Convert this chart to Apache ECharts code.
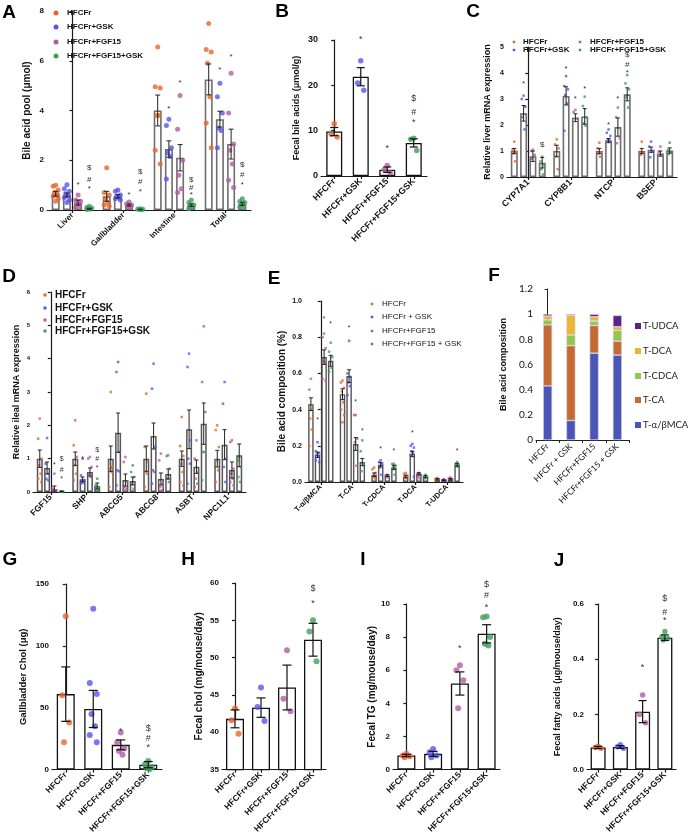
<!DOCTYPE html>
<html><head><meta charset="utf-8">
<script src="https://cdn.jsdelivr.net/npm/echarts@6.0.0/dist/echarts.min.js"></script>
<style>html,body{margin:0;padding:0;background:#fff;}#chart{width:689px;height:836px;}</style>
</head><body><div id="chart"></div>
<script>
// ================= DATA =================
const groupNames = ['HFCFr','HFCFr+GSK','HFCFr+FGF15','HFCFr+FGF15+GSK'];
const groupNamesE = ['HFCFr','HFCFr + GSK','HFCFr+FGF15','HFCFr+FGF15 + GSK'];

// Panel A – bile acid pool (rows = groups, cols = categories)
const catsA = ['Liver','Gallbladder','Intestine','Total'];
const meansA = [[0.65,0.55,4.0,5.25],[0.6,0.55,2.45,3.65],[0.3,0.2,2.1,2.65],[0.05,0.02,0.2,0.25]];
const semsA  = [[0.1,0.2,0.62,0.62],[0.08,0.07,0.33,0.32],[0.1,0.04,0.53,0.6],[0.02,0.01,0.05,0.06]];
const ptsA = [
 [[1.0,0.95,0.8,0.7,0.65,0.55,0.45,0.35],[1.7,0.7,0.6,0.45,0.3,0.2,0.15],[6.55,4.95,4.9,3.8,3.8,2.4,1.85],[7.5,6.45,6.35,5.9,4.55,3.5,2.5]],
 [[1.02,0.85,0.75,0.65,0.6,0.5,0.4,0.3],[0.8,0.75,0.6,0.55,0.5,0.45,0.4],[3.65,3.4,2.5,2.3,2.15,1.25],[5.1,4.55,3.9,3.3,3.2,2.5]],
 [[0.6,0.4,0.35,0.25,0.15,0.1],[0.32,0.25,0.2,0.15,0.1],[4.6,3.25,2.0,1.4,0.85,0.7],[5.5,3.9,2.65,2.4,1.85,1.2,0.9]],
 [[0.15,0.1,0.08,0.05,0.03,0.02],[0.05,0.04,0.03,0.02,0.01],[0.4,0.3,0.2,0.15,0.1,0.05],[0.45,0.35,0.3,0.2,0.15,0.1]]];
const sigA = [[0,2,1.0,'*'],[0,3,1.68,'$'],[0,3,1.22,'#'],[0,3,0.85,'*'],
 [1,2,0.6,'*'],[1,3,1.55,'$'],[1,3,1.12,'#'],[1,3,0.75,'*'],
 [2,1,4.05,'*'],[2,2,5.1,'*'],[2,3,1.2,'$'],[2,3,0.9,'#'],[2,3,0.6,'*'],
 [3,1,5.65,'*'],[3,2,6.15,'*'],[3,3,1.8,'$'],[3,3,1.4,'#'],[3,3,1.0,'*']];

// Panel B – fecal bile acids
const meansB = [9.8,21.9,1.4,7.3];
const semsB  = [0.9,2.0,0.6,0.9];
const ptsB = [[11.5,9.2,8.6],[25.4,20.5,18.9],[2.3,1.4,0.7],[8.3,8.1,5.6]];
const sigB = [[1,30,'*'],[2,6.0,'*'],[3,11.7,'*'],[3,13.9,'#'],[3,17.0,'$']];

// Panel C – liver mRNA
const catsC = ['CYP7A1','CYP8B1','NTCP','BSEP'];
const meansC = [[1.0,1.0,1.0,1.0],[2.45,3.12,1.4,1.05],[0.8,2.28,1.92,0.9],[0.55,2.33,3.18,1.02]];
const semsC  = [[0.1,0.22,0.1,0.1],[0.3,0.35,0.08,0.1],[0.2,0.15,0.35,0.1],[0.2,0.3,0.25,0.1]];
const ptsC = [
 [[1.36,1.05,0.98,0.9,0.6],[1.45,1.25,1.1,0.8,0.3],[1.32,1.1,0.95,0.9,0.78],[1.36,0.97,0.92,0.85]],
 [[3.13,3.0,2.7,2.3,1.83],[3.88,3.5,3.37,3.15,2.83,1.78],[1.83,1.7,1.58,1.42,1.4],[1.36,1.17,1.0,0.76]],
 [[1.05,1.0,0.85,0.7],[2.58,2.5,2.25],[2.67,2.3,1.49,1.3],[1.17,0.97,0.85]],
 [[0.78,0.6,0.45,0.3,0.1],[3.09,2.73,2.29,2.06,1.97],[3.92,3.6,3.37,3.06,2.67],[1.32,1.04,0.95,0.88]]];
const sigC = [[0,1,3.6,'*'],[0,3,1.22,'$'],[1,1,4.15,'*'],[1,2,2.99,'*'],[1,3,3.41,'*'],
 [2,1,1.99,'*'],[2,2,3.0,'*'],[2,3,4.7,'$'],[2,3,4.3,'#'],[2,3,4.02,'*']];

// Panel D – ileal mRNA
const catsD = ['FGF15','SHP','ABCG5','ABCG8','ASBT','NPC1L1'];
const meansD = [[1.0,1.0,1.0,1.0,1.0,1.0],[0.72,0.38,1.78,1.68,1.88,1.42],[0.09,0.6,0.36,0.39,0.76,0.66],[0.02,0.18,0.33,0.54,2.05,1.1]];
const semsD  = [[0.26,0.2,0.38,0.38,0.23,0.25],[0.18,0.07,0.59,0.39,0.58,0.45],[0.09,0.12,0.18,0.18,0.2,0.24],[0.01,0.09,0.12,0.15,0.62,0.34]];
const ptsD = [
 [[2.2,1.6,1.0,0.8,0.55,0.4,0.3],[2.15,1.4,1.05,0.8,0.55,0.35],[3.0,0.85,0.75,0.7,0.6,0.15],[2.95,1.35,0.9,0.6,0.55,0.15],[2.25,1.38,1.08,0.85,0.6,0.3,0.2],[2.0,1.86,1.35,0.95,0.65,0.3]],
 [[1.62,0.85,0.55,0.4,0.35],[1.0,0.5,0.35,0.3,0.28,0.25],[3.9,3.6,1.2,0.65,0.62,0.2],[3.85,3.1,1.35,0.65,0.6,0.25],[4.15,3.75,1.55,1.0,0.85,0.25],[3.3,2.65,1.0,0.75,0.3]],
 [[0.55,0.1,0.05,0.02],[1.05,1.0,0.75,0.55,0.45],[1.05,0.9,0.3,0.15,0.1,0.05],[1.15,0.95,0.25,0.15,0.05],[1.55,1.0,0.6,0.4,0.25,0.15],[1.55,1.5,0.7,0.55,0.4,0.3,0.2]],
 [[0.02,0.01,0.0],[0.4,0.2,0.15,0.1,0.05],[0.8,0.6,0.45,0.25,0.1],[1.1,1.08,0.7,0.4,0.3],[4.97,3.3,2.4,1.2,1.2,0.35],[1.05,0.95,0.75,0.45,0.3]]];
const sigD = [[0,2,0.82,'*'],[0,3,1.0,'$'],[0,3,0.67,'#'],[0,3,0.4,'*'],[1,1,1.0,'*'],[1,3,1.25,'$'],[1,3,1.0,'#'],[1,3,0.72,'*']];

// Panel E – bile acid composition
const catsE = ['T-α/βMCA','T-CA','T-CDCA','T-DCA','T-UDCA'];
const meansE = [[0.43,0.485,0.04,0.03,0.015],[0.15,0.585,0.095,0.155,0.01],[0.69,0.21,0.035,0.045,0.015],[0.67,0.11,0.08,0.03,0.095]];
const semsE  = [[0.035,0.03,0.01,0.007,0.004],[0.015,0.035,0.012,0.015,0.002],[0.04,0.035,0.005,0.006,0.004],[0.03,0.02,0.012,0.006,0.008]];
const ptsE = [
 [[0.57,0.51,0.40,0.35,0.29,0.2],[0.56,0.55,0.52,0.5,0.44,0.4,0.37,0.33],[0.08,0.07,0.05,0.03,0.02],[0.05,0.045,0.035,0.03,0.02],[0.022,0.018,0.015,0.01]],
 [[0.22,0.17,0.16,0.15,0.14,0.12,0.11],[0.78,0.6,0.58,0.55,0.53,0.48],[0.12,0.11,0.1,0.08,0.04],[0.21,0.2,0.19,0.17,0.16,0.15,0.03],[0.015,0.01,0.008]],
 [[0.82,0.8,0.74,0.67,0.66,0.57,0.56],[0.37,0.37,0.24,0.22,0.09],[0.04,0.035,0.03,0.025],[0.05,0.045,0.04,0.03,0.02],[0.025,0.02,0.015]],
 [[0.77,0.72,0.69,0.66,0.63,0.61],[0.23,0.17,0.1,0.06],[0.1,0.1,0.09,0.08,0.04],[0.04,0.03,0.025,0.02],[0.11,0.1,0.095,0.09,0.085]]];
const sigE = [[0,1,0.34,'*'],[0,2,0.9,'*'],[0,3,0.875,'*'],[1,1,0.85,'*'],[1,2,0.44,'*'],[1,3,0.28,'*'],[2,1,0.18,'*'],[2,3,0.17,'*'],[3,1,0.27,'*'],[4,3,0.17,'*']];

// Panel F – stacked composition
const catsF = ['HFCFr','HFCFr + GSK','HFCFr+FGF15','HFCFr+FGF15 + GSK'];
const acidsF = ['T-α/βMCA','T-CA','T-CDCA','T-DCA','T-UDCA'];
const stackF = [[0.43,0.155,0.69,0.675],[0.485,0.595,0.22,0.11],[0.04,0.085,0.035,0.085],[0.03,0.155,0.035,0.03],[0.015,0.01,0.02,0.09]];

// Panel G – gallbladder cholesterol
const meansG = [61,49,20,4];
const semsG  = [22,15,4,2.5];
const ptsG = [[124,60,38,22],[130,70,61,45,35,28,22],[30,22,17,15,12],[7,4,2,1,0.5]];
const sigG = [[2,31,'*'],[3,33,'$'],[3,25,'#'],[3,18,'*']];

// Panel H – fecal cholesterol
const meansH = [41.8,43.3,46,52.4];
const semsH  = [1.2,1.3,3,2.2];
const ptsH = [[43.2,41.6,39.8],[46,43.4,41.5],[51,44.5,42.8],[55,53.5,49.5]];
const sigH = [[3,57.2,'*'],[3,59.3,'$']];

// Panel I – fecal TG
const meansI = [0.85,0.95,5.2,8.2];
const semsI  = [0.07,0.15,0.7,0.55];
const ptsI = [[0.95,0.85,0.8,0.75],[1.25,1.05,0.85,0.75],[6.3,6.0,5.4,3.7],[9.25,9.2,8.0,7.6,7.5]];
const sigI = [[2,7.3,'*'],[3,9.8,'*'],[3,10.5,'#'],[3,11.2,'$']];

// Panel J – fecal fatty acids
const meansJ = [0.08,0.082,0.21,0.478];
const semsJ  = [0.004,0.005,0.04,0.01];
const ptsJ = [[0.085,0.08,0.077],[0.09,0.083,0.077],[0.27,0.2,0.17],[0.5,0.48,0.475,0.47]];
const sigJ = [[2,0.37,'*'],[3,0.54,'*'],[3,0.57,'#'],[3,0.62,'$']];

// ================= STYLE / BUILD =================
const FONT = '"Liberation Sans", Arial, sans-serif';
const COL = ['#E8652B','#5656EE','#B55BA3','#3E9F5D'];
const COLF = ['#4B55B5','#C56A33','#93C64A','#E9B733','#5B1F8E'];
const grid=[], xAxis=[], yAxis=[], series=[], graphic=[];
const JIT = [0,-1,1,-0.5,0.5,-1,1,0,-0.5,0.5];

function addAxes(c, cats){
  const gi = grid.length;
  grid.push({left:c.left, top:c.top, width:c.width, height:c.height});
  const ac = c.axisColor || '#1a1a1a';
  xAxis.push({gridIndex:gi, type:'category', data:cats,
    axisLine:{lineStyle:{color:ac, width:c.axisW||1.2}},
    axisTick:{show:true, alignWithLabel:c.tickAlign!==false, length:3, lineStyle:{color:ac, width:c.axisW||1.2}},
    axisLabel:{interval:0, rotate:45, fontSize:c.xFont||8, fontWeight:c.xWeight||'bold', color:'#111', fontFamily:c.font||FONT, margin:c.xMargin||4},
    splitLine:{show:false}});
  const xc = xAxis.length-1;
  xAxis.push({gridIndex:gi, type:'value', min:-0.5, max:cats.length-0.5, show:false, splitLine:{show:false}});
  const xv = xAxis.length-1;
  yAxis.push({gridIndex:gi, type:'value', min:c.ymin, max:c.ymax, interval:c.yint,
    axisLine:{show:true, lineStyle:{color:ac, width:c.axisW||1.2}},
    axisTick:{show:true, length:3, lineStyle:{color:ac, width:c.axisW||1.2}},
    axisLabel:{fontSize:c.yFont||8, fontWeight:c.yWeight||'bold', color:'#111', fontFamily:c.font||FONT, margin:3, formatter:c.yFmt},
    splitLine:{show:false},
    name:c.yName, nameLocation:'middle', nameGap:c.nameGap, nameRotate:90,
    nameTextStyle:{fontSize:c.nameFont||9, fontWeight:'bold', color:'#111', fontFamily:c.font||FONT}});
  const yi = yAxis.length-1;
  return {xc, xv, yi};
}

function errSeries(ax, data, capPx, color, lw){
  return {type:'custom', xAxisIndex:ax.xv, yAxisIndex:ax.yi, clip:false, silent:true, z:5, data:data,
    renderItem:function(params, api){
      const x=api.value(0), m=api.value(1), s=api.value(2), lo=api.value(3);
      const pT=api.coord([x,m+s]), pB=api.coord([x,Math.max(m-s,lo)]);
      const h=capPx/2;
      const st={stroke:color, lineWidth:lw};
      return {type:'group', children:[
        {type:'line', shape:{x1:pT[0],y1:pT[1],x2:pB[0],y2:pB[1]}, style:st},
        {type:'line', shape:{x1:pT[0]-h,y1:pT[1],x2:pT[0]+h,y2:pT[1]}, style:st},
        {type:'line', shape:{x1:pB[0]-h,y1:pB[1],x2:pB[0]+h,y2:pB[1]}, style:st}]};
    }};
}
function sigSeries(ax, items, font){
  return {type:'custom', xAxisIndex:ax.xv, yAxisIndex:ax.yi, clip:false, silent:true, z:6,
    data:items.map(d=>[d[0],d[1]]),
    renderItem:function(params, api){
      const p=api.coord([api.value(0), api.value(1)]);
      return {type:'text', x:p[0], y:p[1], style:{text:items[params.dataIndex][2], align:'center', verticalAlign:'middle', textAlign:'center', textVerticalAlign:'middle', fill:'#333', font:font}};
    }};
}

function grouped(c){
  const ax = addAxes(c, c.cats);
  const nG=c.means.length, nC=c.cats.length, catW=c.width/nC;
  const step=c.barWidth*(1+c.barGap);
  c.means.forEach((m,g)=>{
    series.push({type:'bar', xAxisIndex:ax.xc, yAxisIndex:ax.yi, data:m, barWidth:c.barWidth, barGap:(c.barGap*100)+'%', silent:true, z:2,
      itemStyle:{color:'#fff', borderColor:c.barBorder||'#666', borderWidth:c.barBorderW||1.5}});
  });
  const err=[];
  c.means.forEach((m,g)=>{
    const off=(g-(nG-1)/2)*step/catW;
    const pts=[];
    m.forEach((v,ci)=>{
      err.push([ci+off, v, c.sems[g][ci], c.ymin]);
      c.pts[g][ci].forEach((y,j)=>pts.push([ci+off+JIT[j%JIT.length]*c.jit/catW, y]));
    });
    series.push({type:'scatter', xAxisIndex:ax.xv, yAxisIndex:ax.yi, data:pts, symbol:c.symbol, symbolSize:c.symSize, itemStyle:{color:COL[g]}, silent:true, z:4, clip:false});
  });
  series.push(errSeries(ax, err, c.cap, '#222', 1));
  series.push(sigSeries(ax, c.sigs.map(s=>[s[0]+(s[1]-(nG-1)/2)*step/catW, s[2], s[3]]), c.sigFont||'8px '+FONT));
}

function simple(c){
  const ax = addAxes(c, groupNames);
  const catW=c.width/4;
  series.push({type:'bar', xAxisIndex:ax.xc, yAxisIndex:ax.yi, data:c.means, barWidth:c.barWidth, silent:true, z:2,
    itemStyle:{color:'#fff', borderColor:'#111', borderWidth:1.3}});
  c.pts.forEach((arr,g)=>{
    series.push({type:'scatter', xAxisIndex:ax.xv, yAxisIndex:ax.yi, symbol:'circle', symbolSize:c.symSize||5.5,
      data:arr.map((y,j)=>[g+JIT[j%JIT.length]*c.jit/catW, y]), itemStyle:{color:COL[g]}, silent:true, z:4, clip:false});
  });
  series.push(errSeries(ax, c.means.map((m,g)=>[g,m,c.sems[g],c.ymin]), c.cap||8, '#111', 1.2));
  series.push(sigSeries(ax, c.sigs, c.sigFont||'9px '+FONT));
}

function letter(t,x,y){
  graphic.push({type:'text', x:x, y:y, style:{text:t, font:'bold 19px '+FONT, fill:'#000', textAlign:'center', textVerticalAlign:'middle'}});
}
function legend(items){
  items.forEach(it=>{
    if(it.shape==='circle') graphic.push({type:'circle', shape:{cx:it.sx, cy:it.y, r:it.size/2}, style:{fill:it.color}});
    else graphic.push({type:'rect', shape:{x:it.sx-it.size/2, y:it.y-it.size/2, width:it.size, height:it.size}, style:{fill:it.color}});
    graphic.push({type:'text', x:it.tx, y:it.y, style:{text:it.text, font:it.font, fill:'#111', textVerticalAlign:'middle'}});
  });
}

// ---- Panel A
grouped({left:47, top:11, width:204, height:199, ymin:0, ymax:8, yint:2, cats:catsA, means:meansA, sems:semsA, pts:ptsA, sigs:sigA,
  barWidth:8, barGap:0.4, jit:2.5, symbol:'circle', symSize:5, cap:5, yName:'Bile acid pool (μmol)', nameFont:10, nameGap:15, barBorder:'#6e6e6e', barBorderW:1.6});
letter('A',9,13);
legend(groupNames.map((t,i)=>({sx:56, tx:67, y:[13,27,42,56][i], text:t, color:COL[i], shape:'circle', size:5, font:'bold 8px '+FONT})));

// ---- Panel B
simple({left:321, top:40, width:106, height:136, ymin:0, ymax:30, yint:10, means:meansB, sems:semsB, pts:ptsB, sigs:sigB,
  barWidth:16, jit:3, cap:8, yName:'Fecal bile acids (μmol/g)', nameFont:9, nameGap:20, xFont:9, yFont:9});
letter('B',282,12);

// ---- Panel C
grouped({left:507, top:47, width:170, height:130, ymin:0, ymax:5, yint:1, cats:catsC, means:meansC, sems:semsC, pts:ptsC, sigs:sigC,
  barWidth:7, barGap:0.33, jit:1.8, symbol:'rect', symSize:2.5, cap:4, yName:'Relative liver mRNA expression', nameFont:9, nameGap:15,
  barBorder:'#6e6e6e', barBorderW:1.6, xFont:9, yFont:7});
letter('C',473,12);
legend([
  {sx:514, tx:523, y:42, text:groupNames[0], color:COL[0]},
  {sx:514, tx:523, y:50, text:groupNames[1], color:COL[1]},
  {sx:580, tx:590, y:42, text:groupNames[2], color:COL[2]},
  {sx:580, tx:590, y:50, text:groupNames[3], color:COL[3]}].map(o=>Object.assign(o,{shape:'rect', size:2.5, font:'bold 8px '+FONT})));

// ---- Panel D
grouped({left:33, top:292, width:213, height:200, ymin:0, ymax:6, yint:1, cats:catsD, means:meansD, sems:semsD, pts:ptsD, sigs:sigD,
  barWidth:6, barGap:0.22, jit:1.6, symbol:'rect', symSize:2.5, cap:4, yName:'Relative ileal mRNA expression', nameFont:9, nameGap:12, yFont:6,
  barBorder:'#555', barBorderW:1.5, sigFont:'7px '+FONT, xFont:8.5});
letter('D',9,277);
legend(groupNames.map((t,i)=>({sx:45, tx:55, y:[295,308,320,331][i], text:t, color:COL[i], shape:'rect', size:3, font:'bold 10px '+FONT})));

// ---- Panel E
grouped({left:305, top:301, width:158, height:181, ymin:0, ymax:1, yint:0.2, cats:catsE, means:meansE, sems:semsE, pts:ptsE, sigs:sigE,
  barWidth:5.5, barGap:0.2, jit:1.6, symbol:'rect', symSize:2.5, cap:4, yName:'Bile acid composition (%)', nameFont:10, nameGap:18,
  yFmt:v=>v.toFixed(1), xFont:7.5, yFont:7, barBorder:'#555', barBorderW:1.4, sigFont:'7px '+FONT});
letter('E',274,279);
legend(groupNamesE.map((t,i)=>({sx:372, tx:382, y:[304,317,331,344][i], text:t, color:COL[i], shape:'rect', size:2.5, font:'8px '+FONT})));

// ---- Panel F (stacked)
(function(){
  const c={left:536, top:289, width:93, height:151, ymin:0, ymax:1.2, yint:0.2, yName:'Bile acid composition', nameFont:9, nameGap:28,
    yFont:10, yWeight:'normal', xFont:8.5, xWeight:'normal', font:'Lato, "Noto Sans", sans-serif', tickAlign:false, axisW:1, axisColor:'#222', xMargin:5};
  const ax=addAxes(c, catsF);
  yAxis[ax.yi].nameTextStyle.fontFamily=FONT;
  stackF.forEach((arr,k)=>{
    series.push({type:'bar', name:acidsF[k], xAxisIndex:ax.xc, yAxisIndex:ax.yi, stack:'F', data:arr, barWidth:9, silent:true,
      itemStyle:{color:COLF[k], borderColor:'#d8d4ee', borderWidth:0.6}});
  });
  const ys=[425,400,376,351,326];
  acidsF.forEach((t,k)=>{
    graphic.push({type:'rect', shape:{x:635, y:ys[k]-3, width:6, height:6}, style:{fill:COLF[k]}});
    graphic.push({type:'text', x:643, y:ys[k], style:{text:t, font:'9.5px Lato, "Noto Sans", sans-serif', fill:'#222', textVerticalAlign:'middle'}});
  });
})();
letter('F',494,276);

// ---- Panels G–J
simple({left:52, top:584, width:110, height:191, ymin:0, ymax:150, yint:50, means:meansG, sems:semsG, pts:ptsG, sigs:sigG,
  barWidth:18, jit:3.5, symSize:6, cap:9, yName:'Gallbladder Chol (μg)', nameFont:9.5, nameGap:24, xFont:8.5});
letter('G',10,560);
simple({left:222, top:583, width:104, height:192, ymin:35, ymax:60, yint:5, means:meansH, sems:semsH, pts:ptsH, sigs:sigH,
  barWidth:18, jit:3.5, symSize:6, cap:9, yName:'Fecal chol (mg/mouse/day)', nameFont:10, nameGap:18, xFont:8.5});
letter('H',188,560);
simple({left:393, top:604, width:107, height:171, ymin:0, ymax:10, yint:2, means:meansI, sems:semsI, pts:ptsI, sigs:sigI,
  barWidth:18, jit:3.5, symSize:6, cap:9, yName:'Fecal TG (mg/mouse/day)', nameFont:10, nameGap:16, xFont:8.5});
letter('I',363,560);
simple({left:587, top:604, width:89, height:171, ymin:0, ymax:0.6, yint:0.2, means:meansJ, sems:semsJ, pts:ptsJ, sigs:sigJ,
  barWidth:15, jit:3, symSize:5.5, cap:8, yName:'Fecal fatty acids (μg/mouse/day)', nameFont:9, nameGap:25, yFmt:v=>v.toFixed(1), xFont:8.5});
letter('J',559,561);

const chart = echarts.init(document.getElementById('chart'), null, {renderer:'canvas'});
chart.setOption({animation:false, backgroundColor:'#fff', grid, xAxis, yAxis, series, graphic});
</script></body></html>
